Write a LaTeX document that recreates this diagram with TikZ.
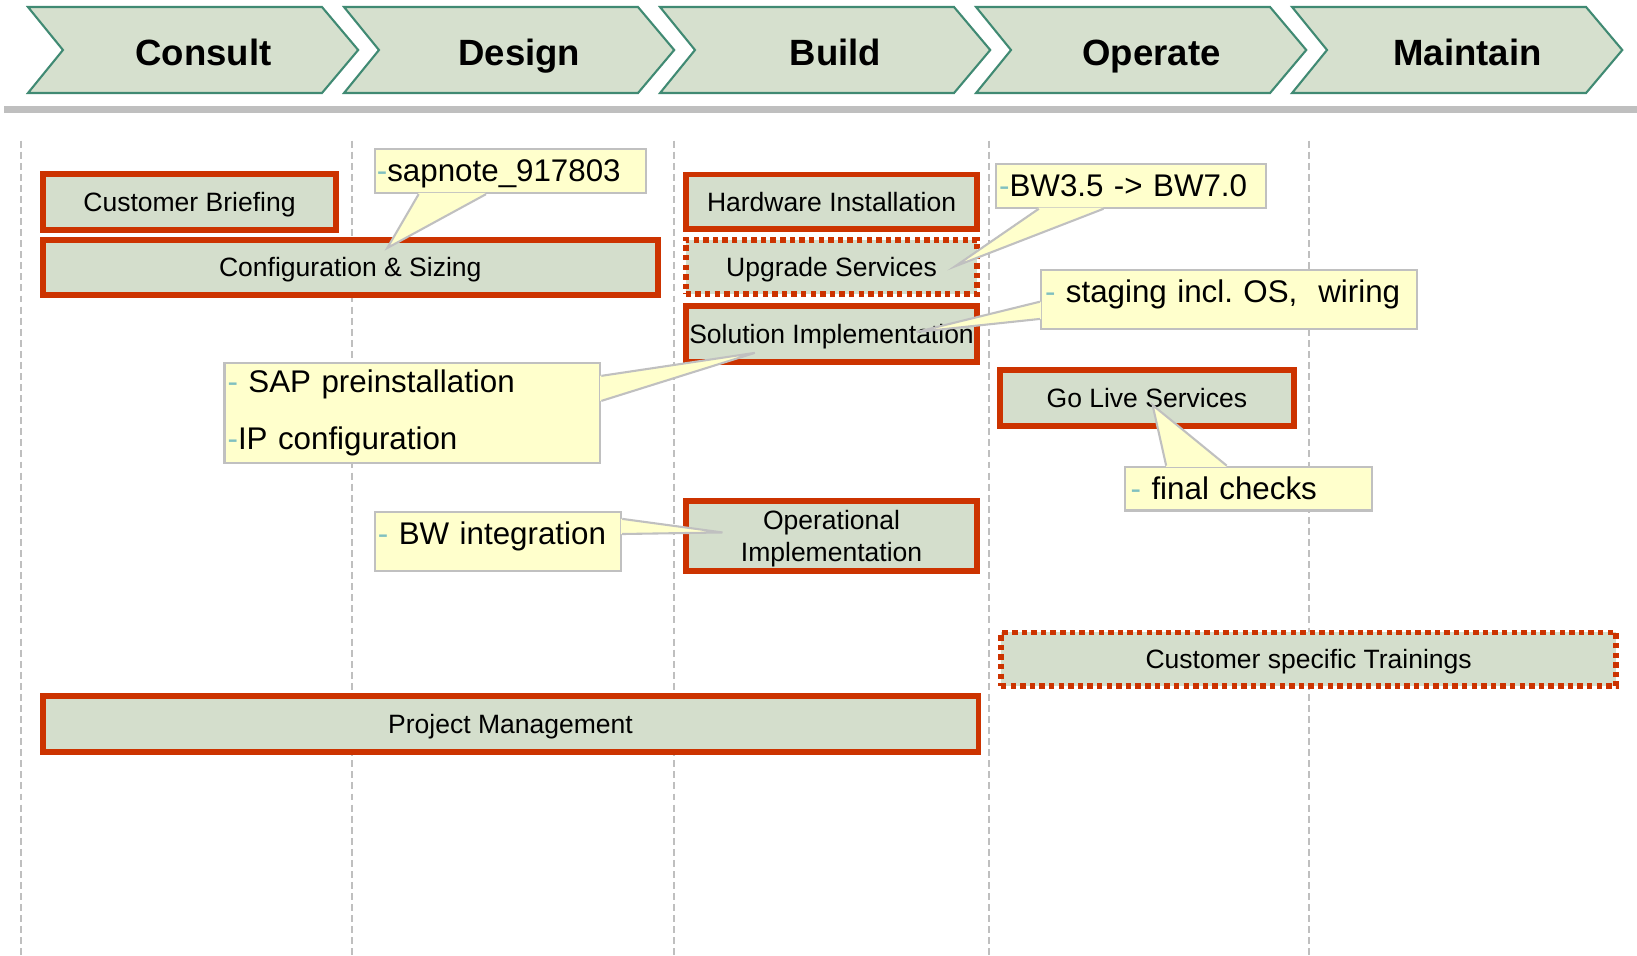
\documentclass[tikz,border=0pt]{standalone}
\usepackage{fontspec}
\setmainfont{Liberation Sans}
\usetikzlibrary{calc}
\definecolor{phasefill}{RGB}{214,224,206}
\definecolor{phaseline}{RGB}{64,138,115}
\definecolor{taskfill}{RGB}{212,222,204}
\definecolor{taskred}{RGB}{204,51,0}
\definecolor{notefill}{RGB}{255,255,204}
\definecolor{notegray}{RGB}{192,192,192}
\definecolor{lanegray}{RGB}{191,191,191}
\definecolor{dashteal}{RGB}{128,192,192}
\newcommand\tealdash{{\color{dashteal}-}}
\tikzset{
  phase/.style={draw=phaseline, fill=phasefill, line width=1pt},
  phasetext/.style={anchor=base, font=\fontsize{17.5}{20}\selectfont\bfseries},
  box/.style={draw=taskred, fill=taskfill, line width=2.8pt, inner sep=0pt,
    font=\fontsize{12.7}{15.5}\selectfont},
  task/.style={box, text depth=0pt},
  optional/.style={task, line width=2.8pt, dash pattern=on 2.6pt off 2pt},
  note/.style={draw=notegray, fill=notefill, line width=1pt, inner ysep=0pt,
    align=left, font=\fontsize{15}{27}\selectfont},
  pointer/.style={draw=notegray, line width=1pt},
  lane/.style={draw=lanegray, line width=1pt, dash pattern=on 3.3pt off 2pt}
}
\begin{document}
\begin{tikzpicture}[x=0.5pt,y=-0.5pt]
  \useasboundingbox (0,0) rectangle (1568,915.7);
  \draw[lane] (19.8,134.7) -- (19.8,915.7);
  \draw[lane] (337,134.7) -- (337,915.7);
  \draw[lane] (646,134.7) -- (646,915.7);
  \draw[lane] (947,134.7) -- (947,915.7);
  \draw[lane] (1254,134.7) -- (1254,915.7);
  \fill[lanegray] (4,101.5) rectangle (1568,108);

  \draw[phase] (26.8,6.7) -- (308.4,6.7) -- (343.1,47.9) -- (308.4,89.1) -- (26.8,89.1) -- (60.3,47.9) -- cycle;
  \draw[phase] (329.5,6.7) -- (611.1,6.7) -- (645.8,47.9) -- (611.1,89.1) -- (329.5,89.1) -- (363,47.9) -- cycle;
  \draw[phase] (632.2,6.7) -- (913.8,6.7) -- (948.5,47.9) -- (913.8,89.1) -- (632.2,89.1) -- (665.7,47.9) -- cycle;
  \draw[phase] (934.9,6.7) -- (1216.5,6.7) -- (1251.2,47.9) -- (1216.5,89.1) -- (934.9,89.1) -- (968.4,47.9) -- cycle;
  \draw[phase] (1237.6,6.7) -- (1519.2,6.7) -- (1553.9,47.9) -- (1519.2,89.1) -- (1237.6,89.1) -- (1271.1,47.9) -- cycle;
  \node[phasetext] (consult) at (194.8,62.3) {Consult};
  \node[phasetext] (design) at (497.5,62.3) {Design};
  \node[phasetext] (build) at (800.2,62.3) {Build};
  \node[phasetext] (operate) at (1102.9,62.3) {Operate};
  \node[phasetext] (maintain) at (1405.6,62.3) {Maintain};

  \node[task, minimum width=140.4pt, minimum height=26.75pt] (briefing) at (181.5,193.4) {Customer Briefing};
  \node[task, minimum width=294.7pt, minimum height=26.2pt] (sizing) at (335.5,256) {Configuration \& Sizing};
  \node[task, minimum width=139.7pt, minimum height=26pt] (hardware) at (796.5,193.2) {Hardware Installation};
  \node[optional, minimum width=139.7pt, minimum height=26pt] (upgrade) at (796.5,255.5) {Upgrade Services};
  \node[task, minimum width=139.7pt, minimum height=27pt] (solution) at (796.5,319.8) {Solution Implementation};
  \node[task, minimum width=140.7pt, minimum height=26.9pt] (golive) at (1098.5,381.3) {Go Live Services};
  \node[task, align=center, minimum width=139.7pt, minimum height=33.7pt] (operational) at (796.5,513.5) {Operational\\Implementation};
  \node[optional, minimum width=294.7pt, minimum height=25.7pt] (trainings) at (1253.5,631.5) {Customer specific Trainings};
  \node[task, minimum width=448.2pt, minimum height=26.7pt] (projectmgmt) at (489,693.5) {Project Management};

  \node[note, minimum height=21pt, text width=128pt, inner xsep=1pt, text depth=1pt] (sapnote) at (489,164) {\tealdash sapnote\_917803};
  \node[note, minimum height=21pt, text width=126.5pt, inner xsep=1.5pt] (bwup) at (1083.5,178) {\tealdash BW3.5 -> BW7.0};
  \node[note, minimum height=28pt, text width=176pt, inner xsep=2pt, text depth=8pt] (staging) at (1177,287) {\tealdash\ staging incl.\ OS,~ wiring};
  \node[note, minimum height=48pt, text width=177pt, inner xsep=1.5pt] (sapinst) at (395,395.5) {\tealdash\ SAP preinstallation\\\tealdash IP configuration};
  \node[note, minimum height=28.5pt, text width=115pt, inner xsep=1.5pt, text depth=7.5pt] (bwint) at (477,518.5) {\tealdash\ BW integration};
  \node[note, minimum height=21pt, text width=113pt, inner xsep=2.5pt] (checks) at (1196,468) {\tealdash\ final checks};

  \coordinate (sapnoteTip) at (371,237.5);
  \coordinate (bwupTip) at (915,255);
  \coordinate (stagingTip) at (878,318);
  \coordinate (sapinstTip) at (723,338);
  \coordinate (bwintTip) at (692,510);
  \coordinate (checksTip) at (1104,388);

  \fill[notefill] ($(sapnote.south west)+(43,-1.2)$) -- (sapnoteTip) -- ($(sapnote.south west)+(107.5,-1.2)$) -- cycle;
  \draw[pointer] ($(sapnote.south west)+(43,0)$) -- (sapnoteTip) -- ($(sapnote.south west)+(107.5,0)$);
  \fill[notefill] ($(bwup.south west)+(42,-1.2)$) -- (bwupTip) -- ($(bwup.south west)+(104,-1.2)$) -- cycle;
  \draw[pointer] ($(bwup.south west)+(42,0)$) -- (bwupTip) -- ($(bwup.south west)+(104,0)$);
  \fill[notefill] ($(staging.north west)+(1.2,31)$) -- (stagingTip) -- ($(staging.north west)+(1.2,47.5)$) -- cycle;
  \draw[pointer] ($(staging.north west)+(0,31)$) -- (stagingTip) -- ($(staging.north west)+(0,47.5)$);
  \fill[notefill] ($(sapinst.north east)+(-1.2,13.5)$) -- (sapinstTip) -- ($(sapinst.north east)+(-1.2,37.5)$) -- cycle;
  \draw[pointer] ($(sapinst.north east)+(0,13.5)$) -- (sapinstTip) -- ($(sapinst.north east)+(0,37.5)$);
  \fill[notefill] ($(bwint.north east)+(-1.2,8)$) -- (bwintTip) -- ($(bwint.north east)+(-1.2,22.5)$) -- cycle;
  \draw[pointer] ($(bwint.north east)+(0,8)$) -- (bwintTip) -- ($(bwint.north east)+(0,22.5)$);
  \fill[notefill] ($(checks.north west)+(40,1.2)$) -- (checksTip) -- ($(checks.north west)+(98,1.2)$) -- cycle;
  \draw[pointer] ($(checks.north west)+(40,0)$) -- (checksTip) -- ($(checks.north west)+(98,0)$);
\end{tikzpicture}
\end{document}
